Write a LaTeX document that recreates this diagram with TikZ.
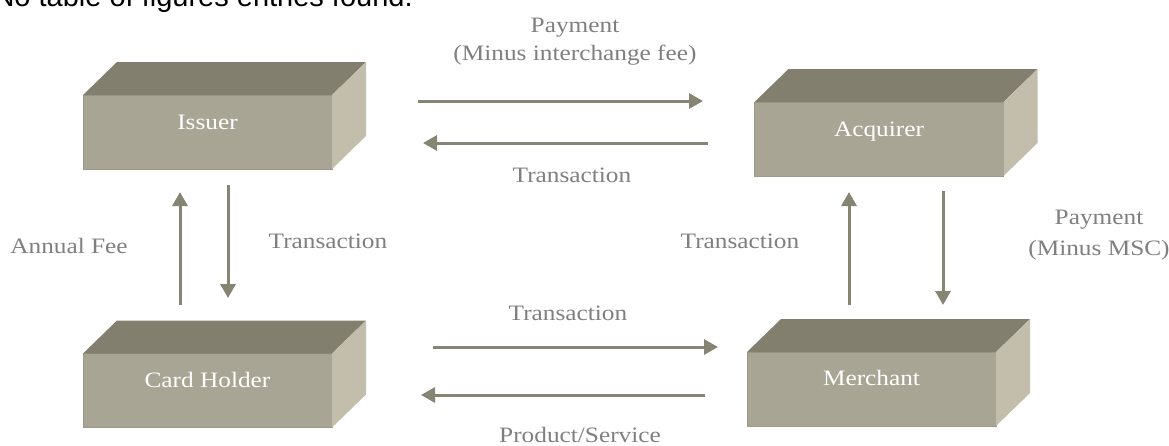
\documentclass[tikz,border=0pt]{standalone}
\usepackage{fontspec}
\setmainfont{Liberation Serif}[FakeStretch=1.15]
\newfontfamily\hdrfont{Liberation Sans}
\usetikzlibrary{arrows.meta,calc}
\definecolor{frontc}{HTML}{A8A594}
\definecolor{frontedge}{HTML}{9C9986}
\definecolor{topc}{HTML}{827F6F}
\definecolor{sidec}{HTML}{C3BEAB}
\definecolor{arrowc}{HTML}{868472}
\definecolor{labelc}{HTML}{7F7F7F}
\newcommand\drawcuboid[1]{%
  \fill[topc] (#1.north west) -- ++(34,-33) -- ($(#1.north east)+(34,-33)$) -- (#1.north east) -- cycle;
  \fill[sidec] (#1.north east) -- ++(34,-33) -- ($(#1.south east)+(34,-33)$) -- (#1.south east) -- cycle;
}
\begin{document}
\begin{tikzpicture}[x=1pt,y=-1pt,
  boxfront/.style={rectangle, fill=frontc, draw=frontedge, line width=0.8pt, inner sep=0pt, outer sep=0pt, minimum width=249pt, minimum height=74pt},
  boxlabel/.style={anchor=base, text=white, font=\fontsize{22}{26}\selectfont},
  flowlabel/.style={anchor=base, text=labelc, font=\fontsize{22}{26}\selectfont},
  flow/.style={draw=arrowc, line width=3pt, -{Triangle[length=14pt,width=15pt]}}]
\useasboundingbox (0,0) rectangle (1169,445);

\node[anchor=base west, font=\hdrfont\fontsize{29}{32}\selectfont, text=black] (hdr) at (-10,6) {No table of figures entries found.};

% boxes
\node[boxfront] (iss) at (207.5,132) {};
\node[boxfront] (acq) at (879,139) {};
\node[boxfront] (card) at (207.5,390.5) {};
\node[boxfront] (mer) at (871.5,389) {};
\drawcuboid{iss}
\drawcuboid{acq}
\drawcuboid{card}
\drawcuboid{mer}
\node[boxlabel] (issl) at ($(iss.center)+(0,-3)$) {Issuer};
\node[boxlabel] (acql) at ($(acq.center)+(0,-3)$) {Acquirer};
\node[boxlabel] (cardl) at ($(card.center)+(0,-3.5)$) {Card Holder};
\node[boxlabel] (merl) at ($(mer.center)+(0,-4)$) {Merchant};

% arrow end points
\coordinate (a1s) at (418,101); \coordinate (a1e) at (703,101);
\coordinate (a2s) at (708,143); \coordinate (a2e) at (423,143);
\coordinate (a3s) at (180,305); \coordinate (a3e) at (180,192);
\coordinate (a4s) at (228,185); \coordinate (a4e) at (228,298);
\coordinate (a5s) at (849,305); \coordinate (a5e) at (849,192);
\coordinate (a6s) at (943,191); \coordinate (a6e) at (943,305);
\coordinate (a7s) at (433,347); \coordinate (a7e) at (718,347);
\coordinate (a8s) at (705,395); \coordinate (a8e) at (421,395);

\draw[flow] (a1s) -- (a1e);
\draw[flow] (a2s) -- (a2e);
\draw[flow] (a3s) -- (a3e);
\draw[flow] (a4s) -- (a4e);
\draw[flow] (a5s) -- (a5e);
\draw[flow] (a6s) -- (a6e);
\draw[flow] (a7s) -- (a7e);
\draw[flow] (a8s) -- (a8e);

% labels
\node[flowlabel] (pay1) at (575,32) {Payment};
\node[flowlabel] (pay2) at (575,60) {(Minus interchange fee)};
\node[flowlabel] (tr1) at (572,182) {Transaction};
\node[flowlabel] (fee) at (69,253) {Annual Fee};
\node[flowlabel] (tr2) at (328,248) {Transaction};
\node[flowlabel] (tr3) at (740,248) {Transaction};
\node[flowlabel] (pay3) at (1099,224) {Payment};
\node[flowlabel] (pay4) at (1099,255) {(Minus MSC)};
\node[flowlabel] (tr4) at (568,320) {Transaction};
\node[flowlabel] (prod) at (580,442) {Product/Service};
\end{tikzpicture}
\end{document}
